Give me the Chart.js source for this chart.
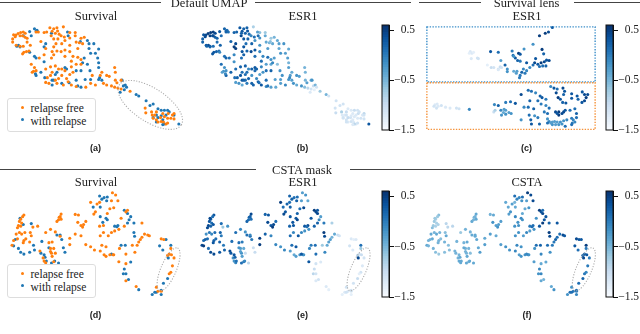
<!DOCTYPE html>
<html><head><meta charset="utf-8">
<script src="https://cdn.jsdelivr.net/npm/chart.js@4/dist/chart.umd.min.js"></script>
<style>
html,body{margin:0;padding:0;background:#fff;width:640px;height:334px;overflow:hidden}
#stage{position:relative;width:640px;height:334px;overflow:hidden;font-family:"Liberation Serif",serif;color:#222}
canvas{position:absolute}
.t{position:absolute;white-space:nowrap;transform:translateX(-50%);font-size:12.5px;line-height:14px}
.sub{position:absolute;white-space:nowrap;transform:translateX(-50%);font:bold 9px/9px "Liberation Sans",sans-serif;color:#222}
.r{position:absolute;height:1px;background:#444}
.leg{position:absolute;left:6.5px;width:87px;height:32px;border:1px solid #ddd;border-radius:3px;background:#fff;font-size:11.5px;line-height:12px;z-index:5}
.leg div{position:absolute;left:23px;white-space:nowrap}
.leg i{position:absolute;width:3px;height:3px;border-radius:50%}
</style></head><body><div id="stage"></div>
<script>
// rows: [x, y, ESR1] — upper UMAP
const topRelapseFree=[[30,97,.3],[37,98,.4],[27,110,.2],[27,120,.2],[35,103,.4],[44,93,.5],[52,90,.5],[60,88,.5],[66,92,.4],[50,100,.5],[58,100,.3],[66,105,.2],[72,108,.2],[38,130,.3],[50,133,.2],[60,133,.1],[70,150,.2],[62,152,.3],[58,157,.3],[78,148,.1],[82,130,.2],[72,120,.1],[100,88,.2],[107,88,.1],[125,90,.2],[133,88,.2],[143,75,.3],[155,78,.2],[165,75,.2],[185,72,-.8],[150,86,.3],[167,85,.3],[172,95,.1],[160,92,.2],[147,100,.4],[155,110,.3],[168,110,.2],[178,100,-.1],[188,104,.1],[205,90,-.6],[222,90,-.7],[222,100,-.4],[205,107,-.2],[190,115,-.2],[180,125,.2],[162,125,.1],[155,135,.3],[115,118,.2],[130,140,.5],[125,160,-.1],[110,170,.1],[150,150,.3],[155,160,.2],[148,170,.1],[165,148,.2],[178,150,.4],[190,145,.3],[205,130,-.2],[225,120,-.4],[240,108,-.7],[250,105,-.5],[235,122,-.5],[245,125,-.4],[230,140,-.3],[205,150,-.1],[190,165,.1],[215,165,-.1],[230,168,.1],[240,175,-.2],[210,180,.1],[225,190,-.3],[85,190,.1],[95,200,-.2],[92,212,-.2],[88,215,-.3],[100,210,-.2],[130,205,.1],[145,198,.2],[160,195,.2],[170,205,-.1],[150,215,.1],[180,205,.2],[190,210,.1],[210,198,-.1],[215,215,-.2],[205,222,-.3],[195,235,-.1],[180,225,-.2],[170,235,.2],[145,225,.3],[135,232,.2],[130,247,-.3],[140,250,-.2],[160,240,.1],[165,250,0],[185,255,.2],[200,245,.2],[210,255,.3],[225,260,-.1],[255,262,-.4],[270,250,-.3],[285,255,-.1],[275,225,-.2],[300,225,-.3],[305,215,-.4],[320,225,-.2],[328,228,-.3],[345,200,-.5],[347,215,-.5],[347,240,-.5],[352,248,-.3],[365,240,-.4],[310,250,-.2],[320,255,-.4],[335,258,-.2],[345,262,-.6],[355,265,-.9],[365,268,-1.1],[393,275,-.7],[440,328,-1.1],[442,343,-1.0],[460,340,-.8],[462,350,-1.2],[465,360,-1.2],[475,365,-1.1],[480,372,-1.2],[490,370,-1.1],[497,372,-1.2],[505,378,-1.2],[510,375,-1.1],[520,360,-1.1],[530,345,-.9],[525,350,-1.2],[512,345,-1.0],[500,355,-1.2],[488,358,-1.1],[470,350,-1.2],[510,360,-1.2],[530,362,-1.1],[475,340,-1.0],[495,345,-1.2],[240,190,-.4]];
const topWithRelapse=[[80,87,.3],[95,78,.2],[103,83,.1],[45,130,.4],[50,135,.2],[100,85,.2],[148,92,.2],[198,88,-.3],[200,100,.1],[238,118,-.6],[260,115,-.4],[265,125,-.3],[130,125,.4],[125,135,.5],[280,125,-.2],[295,142,-.4],[285,155,-.3],[270,155,-.2],[265,140,-.4],[292,170,-.3],[295,185,-.5],[250,170,-.3],[260,190,-.6],[245,185,-.1],[225,210,.1],[240,210,.2],[268,210,-.2],[295,200,-.3],[125,182,-.2],[95,165,.1],[100,170,.2],[80,152,-.1],[60,100,.4],[85,100,.1],[115,215,.2],[165,215,.1],[160,222,.1],[190,200,.3],[195,205,.2],[127,232,.1],[150,240,.3],[155,240,.2],[150,255,-.4],[180,250,.2],[203,248,.1],[225,240,.1],[253,238,-.3],[270,238,-.3],[230,258,.1],[240,262,-.3],[298,232,-.1],[305,240,-.3],[295,238,-.2],[362,278,-1.2],[372,258,-1.0],[378,255,-.5],[382,262,-1.1],[375,270,-1.3],[368,240,-.2],[412,285,-.5],[420,290,-1.1],[443,305,-1.1],[455,320,-1.1],[465,315,-1.1],[480,330,-1.2],[490,335,-1.2],[500,335,-1.0],[510,335,-1.1],[515,340,-1.1],[505,350,-1.2],[490,352,-1.2],[475,350,-1.1],[465,358,-1.1],[480,358,-1.0],[495,365,-1.2],[530,350,-1.1],[500,378,-.9],[475,372,-1.1],[495,380,-1.2],[100,225,.2],[98,220,-.1],[40,133,.2],[545,378,.3]];
// rows: [x, y, ESR1, CSTA] — lower UMAP
const lowRelapseFree=[[62,145,.3,-.6],[58,150,.1,-.7],[52,158,.2,-.8],[48,165,.3,-.7],[55,170,.1,-.8],[45,178,.4,-.7],[52,180,.2,-.8],[42,185,.4,-.6],[48,200,0,-.5],[38,205,-.2,-.4],[55,205,-.1,-.4],[65,200,.1,-.5],[42,220,.1,-.4],[30,225,.1,-.5],[25,240,.4,-.4],[62,225,.2,-.5],[68,220,.1,-.6],[60,232,.3,-.5],[82,200,.2,-.6],[90,183,-.7,-.9],[105,180,-.2,-.9],[85,210,0,-.4],[80,230,.2,-.5],[130,200,.1,-.7],[145,190,-.1,-.5],[165,165,.2,-.4],[170,160,.1,-.5],[175,150,.2,-.5],[178,142,.4,-.4],[172,152,.2,-.5],[178,158,.1,-.4],[160,198,-.2,-.5],[175,212,.2,-.4],[140,232,.1,-.5],[150,230,0,-.4],[145,250,-.3,-.5],[155,250,-.4,-.5],[112,258,.4,-.5],[148,265,-.2,-.5],[160,265,-1.0,-.6],[150,275,-.3,-.4],[122,280,-.2,-.5],[125,290,-.2,-.4],[130,295,-.1,-.4],[155,292,0,-.5],[205,218,.5,-.4],[205,238,.5,-.3],[222,205,.2,-.3],[240,210,-.1,-.4],[222,143,.2,-.5],[232,145,.3,-.4],[230,168,.4,-.2],[240,178,.3,-.3],[248,175,.4,-.3],[245,183,.5,-.2],[255,165,.1,-.3],[255,238,-.1,-.3],[270,245,-.2,-.2],[282,255,-.1,-.2],[270,105,.5,-.4],[290,110,.2,-.3],[298,105,.1,-.5],[285,135,.3,-.2],[280,142,.4,-.3],[322,140,.2,-.4],[330,125,.1,-.4],[342,122,.4,-.2],[338,75,-.3,.5],[348,82,-.2,.4],[355,100,-.4,.4],[335,100,-.3,-.3],[298,180,.2,-.2],[310,178,.3,-.2],[300,210,.1,-.2],[310,200,-.1,-.2],[325,210,.3,-.3],[335,200,-.1,-.1],[345,195,-.2,-.3],[358,190,-.2,-.2],[365,155,.3,-.2],[380,135,.4,.3],[385,130,.3,.1],[375,180,.2,.3],[300,258,-.3,-.1],[312,270,-.4,-.3],[318,275,-.3,-.2],[330,270,-.2,-.2],[342,270,-.2,-.2],[305,240,.1,-.1],[318,245,.3,-.2],[360,250,-.1,-.2],[358,292,.3,-.3],[380,268,.1,-.1],[408,262,-.1,-.2],[400,240,-.7,.1],[415,240,-.4,0],[380,298,-1.1,-.4],[380,352,-1.2,-.4],[412,370,-1.2,-.4],[420,230,-.3,0],[425,222,-.3,.2],[430,170,-.8,.3],[438,205,-.4,.1],[448,208,-1.0,.4],[453,210,-1.1,.3],[490,220,-1.2,.4],[498,222,-1.3,.3],[520,250,-.7,0],[515,268,-1.1,.2],[522,270,-1.0,.3],[510,272,-.9,.2],[530,280,-1.1,0],[525,305,-1.2,0],[520,325,-1.1,-.1],[515,330,-1.3,0],[475,372,-1.1,-.2],[480,385,-1.2,0],[490,385,-1.2,-.1],[430,215,-.5,.1],[340,270,-.2,-.2],[145,260,-.3,-.5]];
const lowWithRelapse=[[50,155,.4,-.7],[60,175,.3,-.8],[85,172,.1,-.9],[35,222,.2,-.5],[30,242,.5,-.5],[45,250,.1,-.5],[52,262,.4,-.6],[62,268,.4,-.7],[80,262,.3,-.6],[92,240,0,-.6],[95,255,.2,-.6],[115,265,.3,-.5],[118,228,.1,-.5],[165,208,.1,-.4],[175,208,-.1,-.4],[180,222,0,-.4],[185,248,-1.0,-.4],[190,262,-1.0,-.3],[140,248,-.2,-.4],[125,270,.3,-.5],[128,278,.2,-.4],[132,290,.1,-.4],[148,296,.1,-.4],[158,290,-.1,-.4],[170,296,-.9,-.4],[298,85,.2,.1],[305,95,.2,-.1],[312,90,.1,-.1],[322,88,.1,.1],[300,120,.2,-.4],[320,100,.2,-.2],[278,120,.1,-.4],[300,150,.3,-.1],[318,155,.3,-.1],[322,160,.4,-.2],[308,168,.3,-.2],[345,180,.3,0],[355,178,.4,.1],[375,130,.5,.5],[385,140,.4,.4],[395,150,-.3,.3],[390,160,-.1,.3],[385,170,.2,.5],[405,170,0,.2],[405,200,.5,.5],[407,212,.4,.4],[365,240,0,.1],[378,240,.1,.2],[335,268,.3,-.1],[375,315,-1.0,-.1],[372,330,-.9,-.2],[380,330,-1.1,-.1],[395,293,-1.2,-.4],[388,348,-1.1,-.5],[420,380,-1.3,-.2],[485,242,-1.1,.3],[505,222,-1.2,.3],[520,240,.1,.5],[495,255,-1.2,.1],[510,345,-1.0,.2],[497,360,-1.1,.1],[470,388,-1.2,.1],[462,395,-1.3,-.2],[490,395,-1.3,-.1],[490,382,-1.1,.1],[475,388,-1.1,.1],[352,182,.1,.1],[512,280,.4,.4]];
// rows: [x, y, ESR1] — supervised lens panels
const lensUpper=[[430,74,.3],[418,88,.4],[408,92,.5],[390,100,.5],[370,127,-.2],[398,143,.5],[403,157,.2],[342,142,-.2],[305,148,0],[325,155,.5],[330,158,.3],[238,150,.3],[262,152,.1],[308,162,.1],[315,170,.3],[322,178,.2],[330,180,0],[310,165,-.2],[350,185,.3],[378,172,.3],[375,185,.4],[385,190,.3],[395,185,.5],[405,182,.4],[412,177,.3],[420,178,.4],[400,195,.1],[410,195,.2],[390,197,.1],[370,192,.1],[360,200,-.1],[340,205,-.1],[350,210,-.1],[345,218,0],[335,215,.2],[330,225,0],[328,232,0],[318,218,-.3],[310,212,-.4],[320,212,-.3],[283,192,.2],[290,205,-.2],[290,213,-.2],[270,178,-.3],[175,150,-1.2],[180,155,-1.2],[185,152,-1.3],[172,155,-1.3],[178,172,-1.2],[197,170,-1.1],[200,172,-1.1],[228,192,-1.3],[240,200,-1],[248,200,-1.1],[262,205,-1.1],[268,198,-1],[272,200,-1.1],[262,207,-1.2]];
const lensLower=[[65,318,-1.2],[72,315,-1.2],[62,322,-1.1],[75,322,-1.2],[70,328,-1.1],[85,320,-1.1],[98,325,-1.2],[112,328,-1.2],[132,328,-1.1],[140,330,-1.1],[172,332,-.1],[250,317,-.1],[262,320,.2],[285,310,0],[300,308,.1],[315,313,.3],[248,340,-1],[252,335,-.8],[270,335,-.1],[280,332,-.3],[285,335,-.3],[278,342,-.4],[272,350,-.2],[285,347,-.2],[295,342,-.3],[302,345,-.2],[333,285,.4],[355,272,.1],[365,275,.1],[378,280,-.1],[392,290,.2],[398,295,.3],[360,305,.2],[385,305,.1],[410,300,0],[425,260,-.1],[435,265,.3],[445,268,.1],[463,265,.4],[468,275,.3],[442,280,.4],[448,295,.5],[465,285,.2],[455,300,.3],[462,310,.2],[472,312,.3],[490,283,.3],[490,297,.3],[507,290,.3],[510,300,.2],[523,277,.3],[530,285,.4],[540,285,.4],[535,295,.5],[530,305,.4],[522,310,.3],[342,325,-.1],[355,325,.1],[372,330,.2],[395,315,0],[410,320,-.1],[420,328,.1],[405,340,0],[415,345,.1],[440,340,.4],[450,340,.5],[460,345,.4],[450,350,.5],[445,345,.3],[465,340,.4],[470,335,.3],[485,335,.1],[500,330,.1],[505,345,.2],[358,350,.1],[375,352,-.2],[385,358,0],[363,365,.2],[333,365,-.2],[365,378,.3],[390,378,.2],[415,362,-.2],[420,370,-.1],[430,372,-.3],[437,370,-.3],[445,372,-.3],[455,372,-.2],[465,368,-.2],[475,365,-.1],[490,360,0],[495,365,-.1],[505,358,.1],[492,375,0],[500,372,-.1],[490,380,.1],[430,380,-.2],[440,380,-.3],[450,380,-.2],[460,378,-.2],[425,375,-.3],[470,385,.1],[415,375,.1]];
const colorTicks=[0.5,-0.5,-1.5];
const classNames=['relapse free','with relapse'];
const blues=['#f7fbff','#deebf7','#c6dbef','#9ecae1','#6baed6','#4292c6','#2171b5','#08519c','#08306b'];
const ORANGE='#ff7f0e',BLUE='#1f77b4',VMIN=-1.5,VMAX=0.6;

function cmap(v){
  let t=Math.min(1,Math.max(0,(v-VMIN)/(VMAX-VMIN)))*8,i=Math.min(7,Math.floor(t)),f=t-i;
  const h=s=>[1,3,5].map(k=>parseInt(s.substr(k,2),16));
  const a=h(blues[i]),b=h(blues[i+1]);
  return 'rgb('+a.map((c,k)=>Math.round(c+(b[k]-c)*f)).join(',')+')';
}
const stage=document.getElementById('stage');
function addCanvas(l,t,w,h){const c=document.createElement('canvas');c.width=w;c.height=h;c.style.cssText=`left:${l}px;top:${t}px;width:${w}px;height:${h}px`;stage.appendChild(c);return c;}
function pts(rows){return rows.map(r=>({x:r[0],y:r[1]}));}
function colored(rows,idx){return {data:pts(rows),pointBackgroundColor:rows.map(r=>cmap(r[idx])),pointBorderWidth:0,pointRadius:1.55,showLine:false};}
function plain(rows,col){return {data:pts(rows),pointBackgroundColor:col,pointBorderWidth:0,pointRadius:1.55,showLine:false};}

const overlay={id:'overlay',afterDatasetsDraw(chart,_,o){
  const c=chart.ctx,X=chart.scales.x,Y=chart.scales.y,s=X.getPixelForValue(1)-X.getPixelForValue(0);
  (o.ellipses||[]).forEach(e=>{c.save();c.strokeStyle='#aaaaaa';c.lineWidth=1.1;c.setLineDash([1.1,1.6]);c.beginPath();
    c.ellipse(X.getPixelForValue(e[0]),Y.getPixelForValue(e[1]),e[2]*s,e[3]*s,e[4]*Math.PI/180,0,Math.PI*2);c.stroke();c.restore();});
  (o.boxes||[]).forEach(b=>{c.save();c.strokeStyle=b[4];c.lineWidth=1.4;c.setLineDash([1.4,1.4]);
    c.strokeRect(X.getPixelForValue(b[0]),Y.getPixelForValue(b[1]),(b[2]-b[0])*s,(b[3]-b[1])*s);c.restore();});
}};
function panel(l,t,w,h,datasets,ov){
  new Chart(addCanvas(l,t,w,h),{type:'scatter',data:{datasets},plugins:[overlay],options:{
    responsive:false,animation:false,devicePixelRatio:1,layout:{padding:0},events:[],
    plugins:{legend:{display:false},tooltip:{enabled:false},overlay:ov||{}},
    scales:{x:{type:'linear',display:false,min:0,max:w*3},y:{type:'linear',display:false,reverse:true,min:0,max:h*3}}}});
}
const ellTop=[[456,318,115,52,33]],ellLow=[[513,316,72,24,-67]];
const ellLowF=[[528,316,72,24,-67]];
const shift=(rows,dx)=>rows.map(r=>[r[0]+dx,...r.slice(1)]);
const topAll=topRelapseFree.concat(topWithRelapse),lowAll=lowRelapseFree.concat(lowWithRelapse);
panel(0,0,213,167,[plain(topRelapseFree,ORANGE),plain(topWithRelapse,BLUE)],{ellipses:ellTop});
panel(190,0,213,167,[colored(topAll,2)]);
panel(410,0,230,167,[colored(lensUpper,2),colored(lensLower,2)],{boxes:[[40,72,563,243,'#3d8fc9'],[40,248,563,393,'#f5923a']]});
panel(0,165,213,169,[plain(lowRelapseFree,ORANGE),plain(lowWithRelapse,BLUE)],{ellipses:ellLow});
panel(190,165,213,169,[colored(lowAll,2)],{ellipses:ellLow});
panel(410,165,230,169,[colored(shift(lowAll,15),3)],{ellipses:ellLowF});

const outline={id:'outline',afterDraw(ch){const a=ch.chartArea,c=ch.ctx;c.save();c.strokeStyle='#111';c.lineWidth=1;c.strokeRect(a.left,a.top,a.right-a.left,a.bottom-a.top);c.restore();}};
const levels=[];for(let i=0;i<42;i++)levels.push(VMIN+(VMAX-VMIN)*i/42);
function colorbar(l,t,h,w){
  const step=(VMAX-VMIN)/42;
  new Chart(addCanvas(l,t,w,h),{type:'bar',data:{labels:['c'],datasets:levels.map(v=>({data:[[v,v+step+0.004]],backgroundColor:cmap(v+step/2),barPercentage:1,categoryPercentage:1,grouped:false,borderWidth:0}))},
    plugins:[outline],options:{responsive:false,animation:false,devicePixelRatio:1,events:[],
    layout:{padding:{left:7,top:8,bottom:8,right:0}},
    plugins:{legend:{display:false},tooltip:{enabled:false}},
    scales:{x:{display:false},y:{position:'right',min:VMIN,max:VMAX,
      afterBuildTicks(s){s.ticks=colorTicks.map(v=>({value:v}));},
      afterFit(s){s.width=w-14;},
      grid:{drawOnChartArea:false,drawTicks:true,tickLength:5,color:'#111',tickWidth:1},border:{color:'#111'},
      ticks:{padding:1,crossAlign:'far',autoSkip:false,color:'#222',font:{family:'Liberation Serif',size:11.5},callback:v=>String(v).replace('-','\u2212')}}}}});
}
colorbar(375,17,121,40);
colorbar(599,17,121,40);
colorbar(375,183,122,40);
colorbar(599,183,122,40);

function txt(cls,s,x,y){const d=document.createElement('div');d.className=cls;d.textContent=s;d.style.left=x+'px';d.style.top=y+'px';stage.appendChild(d);}
[['Default UMAP',209,-4.5],['Survival lens',526.5,-4.5],['CSTA mask',302,163],['Survival',96,8.5],['ESR1',303,8.5],['ESR1',527,8.5],['Survival',96,175],['ESR1',303,175],['CSTA',527,175]].forEach(a=>txt('t',a[0],a[1],a[2]));
[['(a)',95.5,144],['(b)',302.5,144],['(c)',526.5,144],['(d)',95.5,310.5],['(e)',302.5,310.5],['(f)',527,310.5]].forEach(a=>txt('sub',a[0],a[1],a[2]));
[[0,2,161],[255,2,156],[419,2,62],[574,2,66],[0,169,256],[350,169,290]].forEach(a=>{const d=document.createElement('div');d.className='r';d.style.cssText=`left:${a[0]}px;top:${a[1]}px;width:${a[2]}px`;stage.appendChild(d);});
[98,264].forEach(top=>{
  const b=document.createElement('div');b.className='leg';b.style.top=top+'px';
  classNames.forEach((n,i)=>{const e=document.createElement('div');e.textContent=n;e.style.top=(3+i*12.5)+'px';b.appendChild(e);
    const m=document.createElement('i');m.style.cssText=`left:13px;top:${7+i*11.8}px;background:${i?BLUE:ORANGE}`;b.appendChild(m);});
  stage.appendChild(b);});
const fig=document.createElement('div');fig.className='t';fig.textContent='Figure 3:';fig.style.cssText='left:17px;top:331px;font-size:9px;color:#888';stage.appendChild(fig);
</script></body></html>
